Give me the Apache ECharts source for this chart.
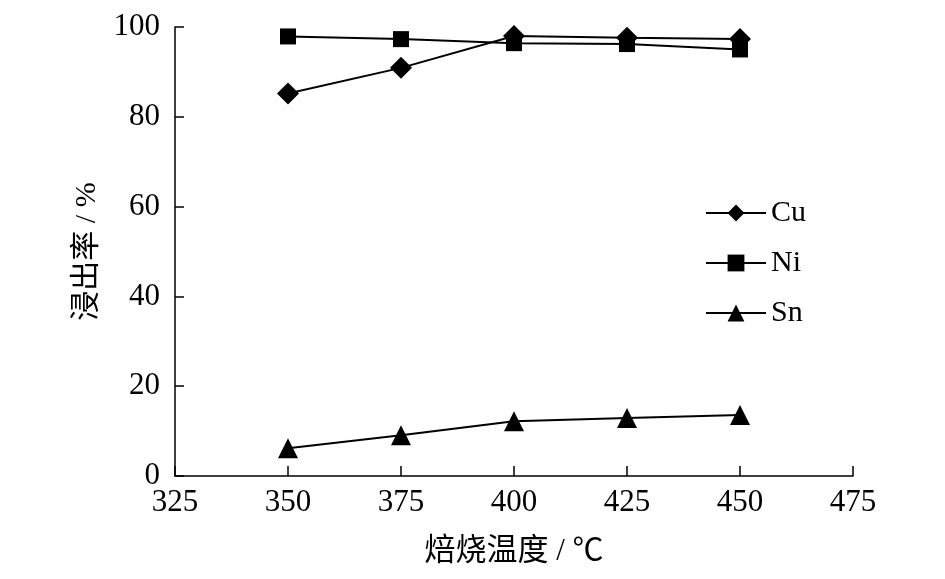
<!DOCTYPE html>
<html>
<head>
<meta charset="utf-8">
<script src="https://cdn.jsdelivr.net/npm/echarts@6/dist/echarts.min.js"></script>
<style>
html, body { margin: 0; padding: 0; background: #fff; }
#chart { width: 945px; height: 579px; }
</style>
</head>
<body>
<div id="chart"></div>
<script>
// 焙烧温度 vs 浸出率
var temps = [350, 375, 400, 425, 450];
var cuRate = [85.2, 90.9, 98.0, 97.6, 97.3];
var niRate = [97.9, 97.3, 96.4, 96.2, 95.0];
var snRate = [6.2, 9.1, 12.2, 12.9, 13.6];

var FONT = '"Liberation Serif", "Noto Sans CJK SC", serif';

function pairs(vals) {
    return temps.map(function(t, i) { return [t, vals[i]]; });
}

function lineSeries(name, vals, symbol, size) {
    return {
        name: name,
        type: 'line',
        data: pairs(vals),
        symbol: symbol,
        symbolSize: size,
        showAllSymbol: true,
        lineStyle: { color: '#000', width: 2 },
        itemStyle: { color: '#000' },
        z: 3
    };
}

var chart = echarts.init(document.getElementById('chart'));
var option = {
    animation: false,
    backgroundColor: '#fff',
    grid: { left: 175, right: 92, top: 27, bottom: 103, containLabel: false },
    legend: {
        orient: 'vertical',
        left: 705,
        top: 198,
        padding: 0,
        itemWidth: 60,
        itemHeight: 21,
        itemGap: 20,
        textStyle: { fontFamily: FONT, fontSize: 30, color: '#000' },
        data: ['Cu', 'Ni', 'Sn']
    },
    xAxis: {
        type: 'value',
        min: 325,
        max: 475,
        interval: 25,
        name: '焙烧温度 / ℃',
        nameLocation: 'middle',
        nameGap: 60,
        nameTextStyle: { fontFamily: FONT, fontSize: 31, color: '#000' },
        axisLine: { lineStyle: { color: '#000', width: 1.5 } },
        axisTick: { inside: true, length: 10, lineStyle: { color: '#000', width: 1.5 } },
        axisLabel: { fontFamily: FONT, fontSize: 31, color: '#000', margin: 11 },
        splitLine: { show: false }
    },
    yAxis: {
        type: 'value',
        min: 0,
        max: 100,
        interval: 20,
        name: '浸出率 / %',
        nameLocation: 'middle',
        nameGap: 72,
        nameRotate: 90,
        nameTextStyle: { fontFamily: FONT, fontSize: 30, color: '#000' },
        axisLine: { show: true, lineStyle: { color: '#000', width: 1.5 } },
        axisTick: { show: true, inside: true, length: 9, lineStyle: { color: '#000', width: 1.5 } },
        axisLabel: { fontFamily: FONT, fontSize: 31, color: '#000', margin: 15 },
        splitLine: { show: false }
    },
    series: [
        lineSeries('Cu', cuRate, 'diamond', 22),
        lineSeries('Ni', niRate, 'rect', 16),
        lineSeries('Sn', snRate, 'triangle', 20)
    ]
};
chart.setOption(option);
</script>
</body>
</html>
